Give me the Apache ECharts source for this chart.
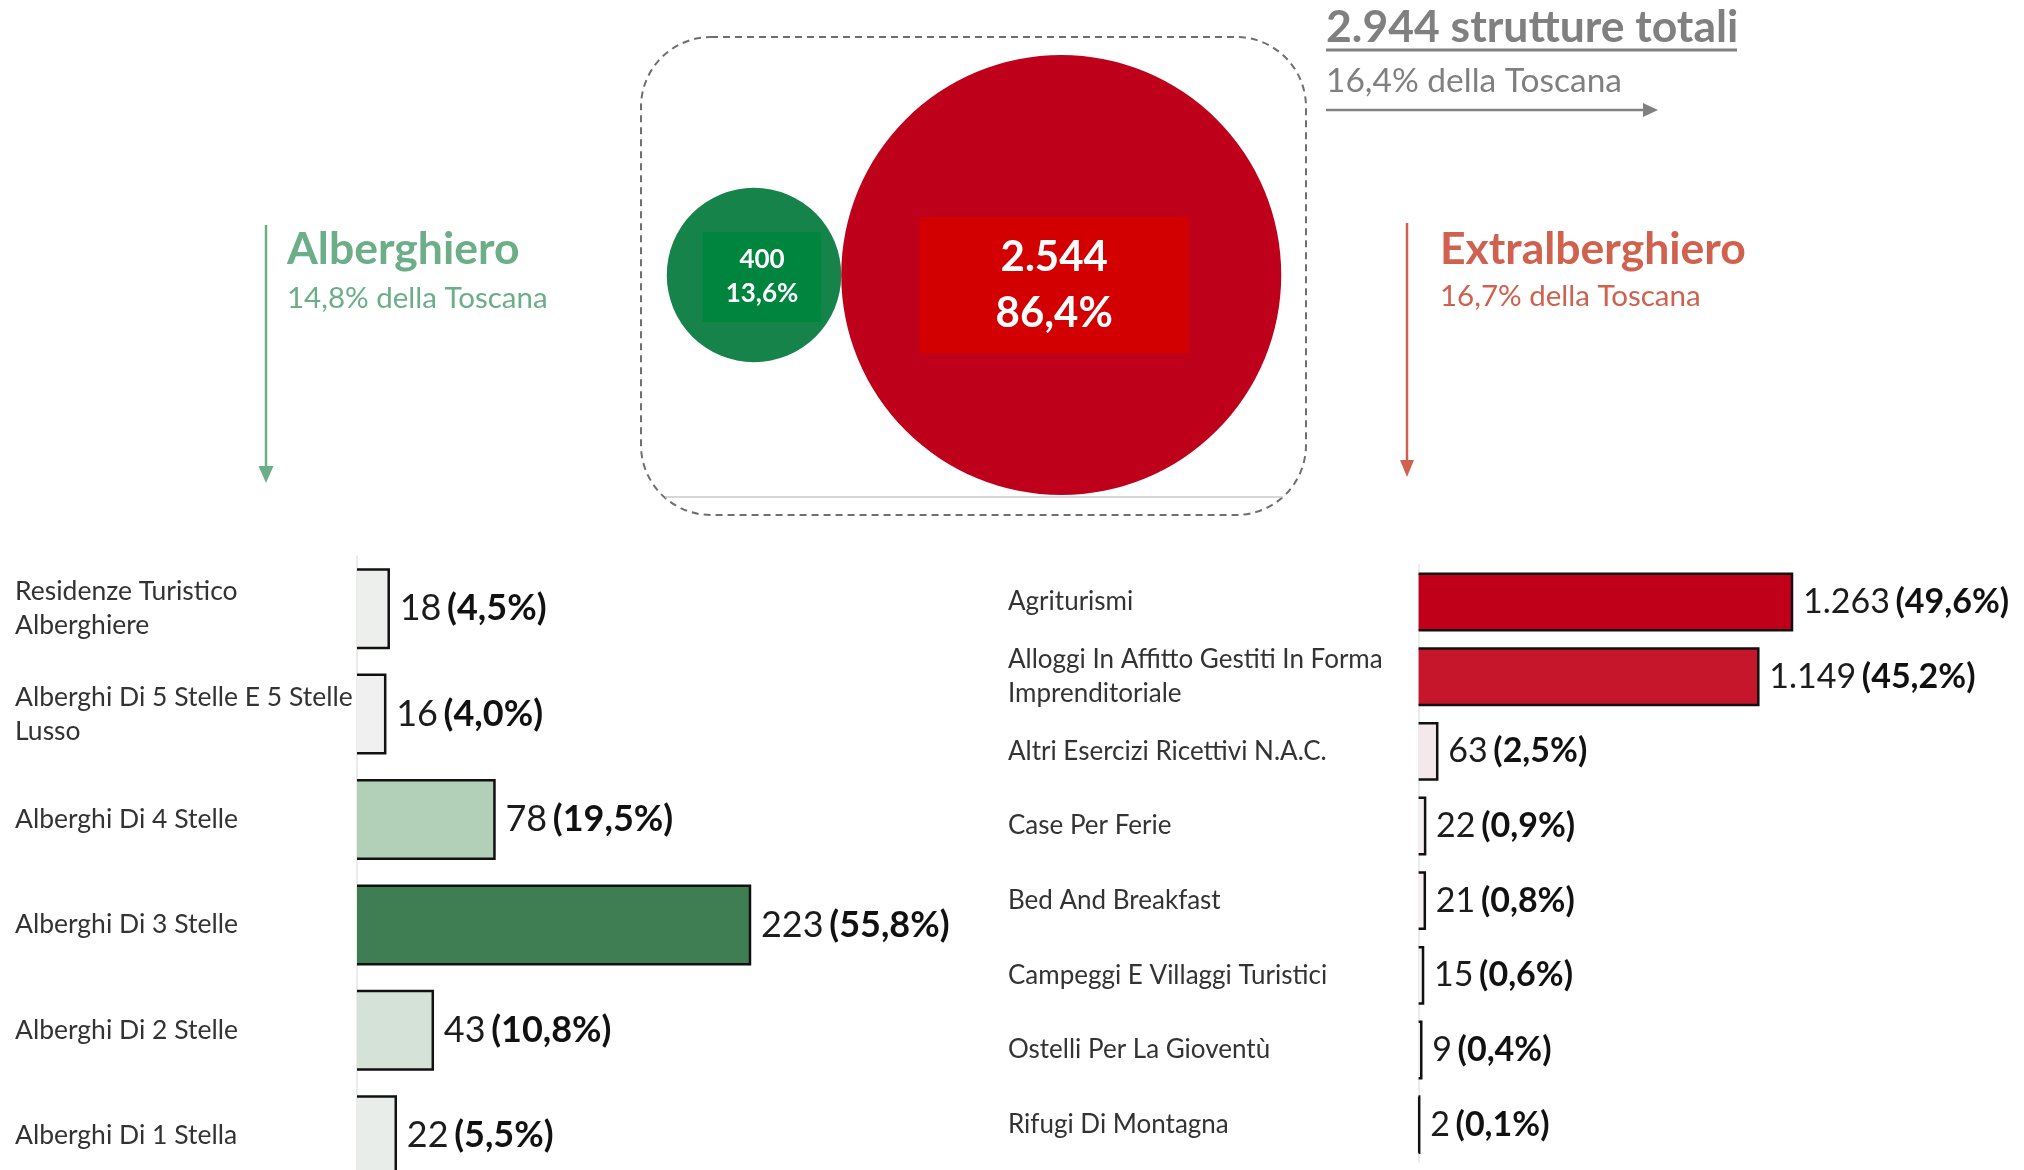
<!DOCTYPE html>
<html>
<head>
<meta charset="utf-8">
<script src="https://cdn.jsdelivr.net/npm/echarts@6/dist/echarts.min.js"></script>
<style>
html,body{margin:0;padding:0;background:#fff;}
#chart{width:2024px;height:1170px;}
</style>
</head>
<body>
<div id="chart"></div>
<script>
// ---------- DATA ----------
const bubbleNames = ['Alberghiero', 'Extralberghiero'];
const bubbleValues = [400, 2544];
const bubblePct = ['13,6%', '86,4%'];
const toscanaPct = { total: '16,4%', Alberghiero: '14,8%', Extralberghiero: '16,7%' };

const leftCats = ['Residenze Turistico Alberghiere', 'Alberghi Di 5 Stelle E 5 Stelle Lusso', 'Alberghi Di 4 Stelle', 'Alberghi Di 3 Stelle', 'Alberghi Di 2 Stelle', 'Alberghi Di 1 Stella'];
const leftValues = [18, 16, 78, 223, 43, 22];
const leftPct = ['4,5%', '4,0%', '19,5%', '55,8%', '10,8%', '5,5%'];

const rightCats = ['Agriturismi', 'Alloggi In Affitto Gestiti In Forma Imprenditoriale', 'Altri Esercizi Ricettivi N.A.C.', 'Case Per Ferie', 'Bed And Breakfast', 'Campeggi E Villaggi Turistici', 'Ostelli Per La Gioventù', 'Rifugi Di Montagna'];
const rightValues = [1263, 1149, 63, 22, 21, 15, 9, 2];
const rightPct = ['49,6%', '45,2%', '2,5%', '0,9%', '0,8%', '0,6%', '0,4%', '0,1%'];

// ---------- HELPERS ----------
const FONT = 'Lato';
const fmt = v => String(v).replace(/\B(?=(\d{3})+(?!\d))/g, '.');
const total = bubbleValues.reduce((a, b) => a + b, 0);

const GREEN = '#6BAE88', RED = '#D1614F', GRAY = '#808080';

// word wrap by measured pixel width
const measureCtx = document.createElement('canvas').getContext('2d');
function wrapper(fontSize, maxWidth) {
  return function (text) {
    measureCtx.font = fontSize + 'px ' + FONT;
    const words = text.split(' ');
    const lines = [];
    let cur = '';
    words.forEach(w => {
      const test = cur ? cur + ' ' + w : w;
      if (cur && measureCtx.measureText(test).width > maxWidth) { lines.push(cur); cur = w; }
      else cur = test;
    });
    if (cur) lines.push(cur);
    return lines.join('\n');
  };
}

// bubble sizing (area proportional to value)
const k = 220 / Math.sqrt(Math.max(...bubbleValues));
const radius = v => k * Math.sqrt(v);
const r0 = radius(bubbleValues[0]), r1 = radius(bubbleValues[1]);
const bx0 = 114, by = 240;            // layout offset inside bubble grid
const bx1 = bx0 + r0 + r1;             // touching bubbles

function outline(frac) {
  return function (params, api) {
    const v = api.value(0), c = api.value(1);
    const p0 = api.coord([0, c]), p1 = api.coord([v, c]);
    const h = api.size([0, 1])[1] * frac;
    return {
      type: 'polyline',
      shape: { points: [[p0[0], p0[1] - h / 2], [p1[0], p1[1] - h / 2], [p1[0], p1[1] + h / 2], [p0[0], p0[1] + h / 2]] },
      style: { stroke: '#111', lineWidth: 2.5, fill: null }
    };
  };
}

function valueRich(size) {
  return {
    n: { fontFamily: FONT, fontSize: size, color: '#1c1c1c', fontWeight: 'normal' },
    s: { fontFamily: FONT, fontSize: 22 },
    p: { fontFamily: FONT, fontSize: size, color: '#111', fontWeight: 'bold' }
  };
}

const chart = echarts.init(document.getElementById('chart'), null, { renderer: 'canvas' });

const LFRAC = 0.745, RFRAC = 0.755;

const option = {
  backgroundColor: '#ffffff',
  animation: false,
  grid: [
    { left: 640, top: 37, width: 666, height: 478, outerBoundsMode: 'none' },
    { left: 357, top: 556, width: 250 * 1.7623, height: 632.4, outerBoundsMode: 'none' },
    { left: 1418.6, top: 564.7, width: 2000 * 0.29565, height: 597.3, outerBoundsMode: 'none' }
  ],
  xAxis: [
    { gridIndex: 0, type: 'value', min: 0, max: 666, show: false },
    { gridIndex: 1, type: 'value', min: 0, max: 250, show: false },
    { gridIndex: 2, type: 'value', min: 0, max: 2000, show: false }
  ],
  yAxis: [
    { gridIndex: 0, type: 'value', min: 0, max: 478, show: false },
    {
      gridIndex: 1, type: 'category', inverse: true, data: leftCats,
      axisLine: { show: true, lineStyle: { color: '#E4E4E4', width: 1.5 } },
      axisTick: { show: false },
      axisLabel: { margin: 342, align: 'left', fontFamily: FONT, fontSize: 26.5, color: '#333', lineHeight: 34, formatter: wrapper(26.5, 340) }
    },
    {
      gridIndex: 2, type: 'category', inverse: true, data: rightCats,
      axisLine: { show: true, lineStyle: { color: '#E4E4E4', width: 1.5 } },
      axisTick: { show: false },
      axisLabel: { margin: 410.6, align: 'left', fontFamily: FONT, fontSize: 26, color: '#333', lineHeight: 34, formatter: wrapper(26, 395) }
    }
  ],
  visualMap: [
    { type: 'continuous', show: false, seriesIndex: 2, dimension: 0, min: Math.min(...leftValues), max: Math.max(...leftValues), inRange: { color: ['#EFF0EF', '#89B993', '#3F7E53'] } },
    { type: 'continuous', show: false, seriesIndex: 4, dimension: 0, min: Math.min(...rightValues), max: Math.max(...rightValues), inRange: { color: ['#F7F4F5', '#C00018'] } }
  ],
  series: [
    {
      name: bubbleNames[0], type: 'scatter', xAxisIndex: 0, yAxisIndex: 0,
      data: [[bx0, by, bubbleValues[0]]],
      symbolSize: d => 2 * radius(d[2]),
      itemStyle: { color: '#15834A', opacity: 1 },
      label: {
        show: true, position: 'inside', offset: [8, 2],
        formatter: p => '{a|' + fmt(p.value[2]) + '}\n{a|' + bubblePct[0] + '}',
        backgroundColor: '#00853F', padding: [11, 23],
        rich: { a: { fontFamily: FONT, fontSize: 26, fontWeight: 'bold', color: '#fff', lineHeight: 34, align: 'center' } }
      }
    },
    {
      name: bubbleNames[1], type: 'scatter', xAxisIndex: 0, yAxisIndex: 0,
      data: [[bx1, by, bubbleValues[1]]],
      symbolSize: d => 2 * radius(d[2]),
      itemStyle: { color: '#BF001A', opacity: 1 },
      label: {
        show: true, position: 'inside', offset: [-7, 10],
        formatter: p => '{a|' + fmt(p.value[2]) + '}\n{a|' + bubblePct[1] + '}',
        backgroundColor: '#D20000', padding: [12, 76],
        rich: { a: { fontFamily: FONT, fontSize: 42, fontWeight: 'bold', color: '#fff', lineHeight: 56, align: 'center' } }
      }
    },
    {
      type: 'bar', xAxisIndex: 1, yAxisIndex: 1,
      data: leftValues.map((v, i) => [v, leftCats[i]]),
      encode: { x: 0, y: 1 },
      barWidth: (LFRAC * 100) + '%',
      label: {
        show: true, position: 'right', distance: 11,
        formatter: p => '{n|' + fmt(p.value[0]) + '}{s| }{p|(' + leftPct[p.dataIndex] + ')}',
        rich: valueRich(36)
      }
    },
    {
      type: 'custom', xAxisIndex: 1, yAxisIndex: 1, z: 5,
      data: leftValues.map((v, i) => [v, leftCats[i]]),
      encode: { x: 0, y: 1 },
      renderItem: outline(LFRAC)
    },
    {
      type: 'bar', xAxisIndex: 2, yAxisIndex: 2,
      data: rightValues.map((v, i) => [v, rightCats[i]]),
      encode: { x: 0, y: 1 },
      barWidth: (RFRAC * 100) + '%',
      label: {
        show: true, position: 'right', distance: 11,
        formatter: p => '{n|' + fmt(p.value[0]) + '}{s| }{p|(' + rightPct[p.dataIndex] + ')}',
        rich: valueRich(34)
      }
    },
    {
      type: 'custom', xAxisIndex: 2, yAxisIndex: 2, z: 5,
      data: rightValues.map((v, i) => [v, rightCats[i]]),
      encode: { x: 0, y: 1 },
      renderItem: outline(RFRAC)
    }
  ],
  graphic: [
    // dashed frame around bubbles
    { type: 'rect', z: 0, shape: { x: 641, y: 37, width: 665, height: 478, r: 70 }, style: { fill: null, stroke: '#6F6F6F', lineWidth: 2, lineDash: [7, 5] } },
    { type: 'line', z: 0, shape: { x1: 665, y1: 497, x2: 1283, y2: 497 }, style: { stroke: '#C8C8C8', lineWidth: 1.5 } },
    // total header
    { type: 'text', x: 1326, y: 28, style: { text: fmt(total) + ' strutture totali', fontFamily: FONT, fontSize: 44.5, fontWeight: 'bold', fill: GRAY, verticalAlign: 'middle', align: 'left' } },
    { type: 'rect', shape: { x: 1326, y: 48.5, width: 411, height: 3 }, style: { fill: GRAY } },
    { type: 'text', x: 1326, y: 81, style: { text: toscanaPct.total + ' della Toscana', fontFamily: FONT, fontSize: 33.5, fill: GRAY, verticalAlign: 'middle', align: 'left' } },
    { type: 'line', shape: { x1: 1326, y1: 110, x2: 1645, y2: 110 }, style: { stroke: GRAY, lineWidth: 2.5 } },
    { type: 'polygon', shape: { points: [[1643, 103], [1658, 110], [1643, 117]] }, style: { fill: GRAY } },
    // Alberghiero
    { type: 'line', shape: { x1: 266, y1: 225, x2: 266, y2: 468 }, style: { stroke: GREEN, lineWidth: 2.5 } },
    { type: 'polygon', shape: { points: [[258.5, 466], [273.5, 466], [266, 483]] }, style: { fill: GREEN } },
    { type: 'text', x: 287, y: 250, style: { text: bubbleNames[0], fontFamily: FONT, fontSize: 44.5, fontWeight: 'bold', fill: GREEN, verticalAlign: 'middle', align: 'left' } },
    { type: 'text', x: 287, y: 298, style: { text: toscanaPct.Alberghiero + ' della Toscana', fontFamily: FONT, fontSize: 29.5, fill: GREEN, verticalAlign: 'middle', align: 'left' } },
    // Extralberghiero
    { type: 'line', shape: { x1: 1407, y1: 223, x2: 1407, y2: 461 }, style: { stroke: RED, lineWidth: 2.5 } },
    { type: 'polygon', shape: { points: [[1400, 460], [1414, 460], [1407, 477]] }, style: { fill: RED } },
    { type: 'text', x: 1440, y: 250, style: { text: bubbleNames[1], fontFamily: FONT, fontSize: 44.5, fontWeight: 'bold', fill: RED, verticalAlign: 'middle', align: 'left' } },
    { type: 'text', x: 1440, y: 296, style: { text: toscanaPct.Extralberghiero + ' della Toscana', fontFamily: FONT, fontSize: 29.5, fill: RED, verticalAlign: 'middle', align: 'left' } }
  ]
};

chart.setOption(option);
</script>
</body>
</html>
